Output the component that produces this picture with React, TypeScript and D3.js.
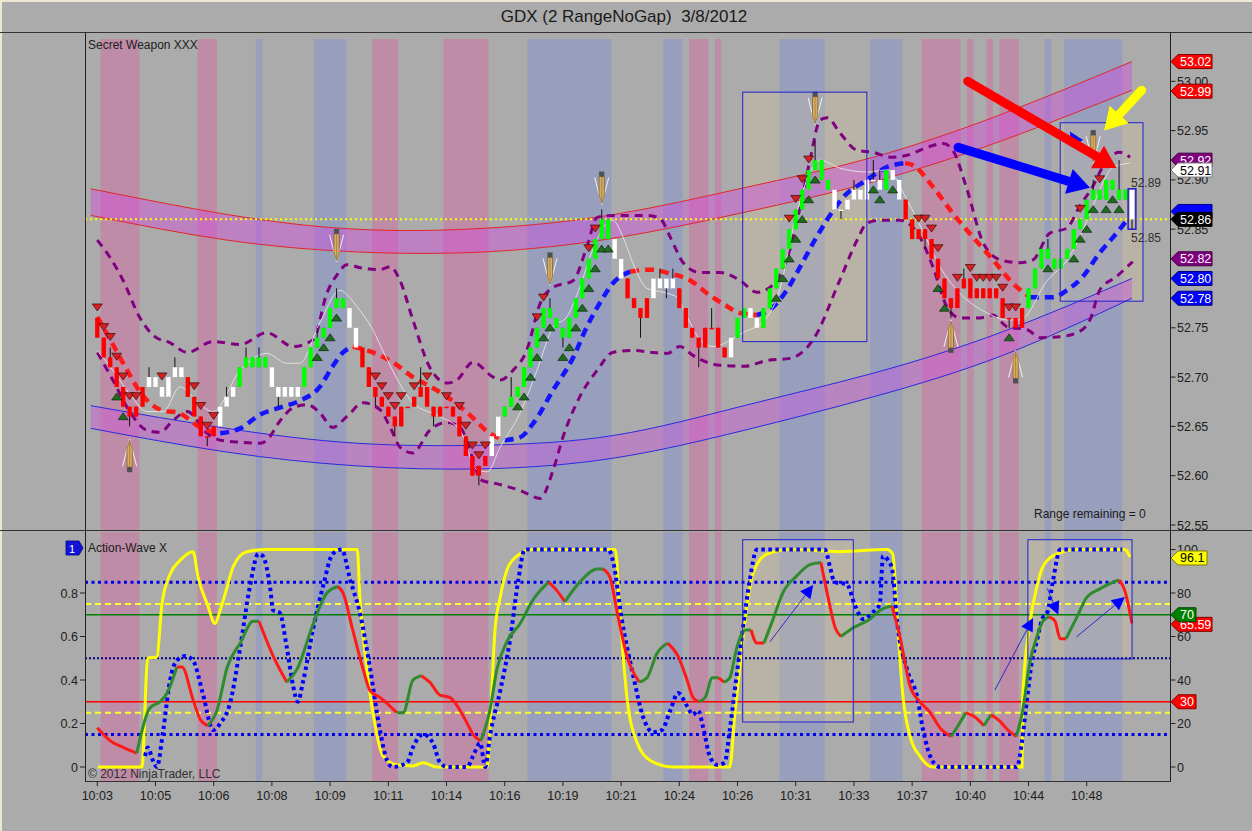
import React, { useEffect } from "react";
import * as d3 from "d3";

const W = 1252;
const H = 831;
const FONT = "'Liberation Sans', Arial, sans-serif";
const BG = "#ababab";
const PINK = "#bf8ca7";
const BLUEBAND = "#979fbc";

const TITLE = "GDX (2 RangeNoGap)\u00a0\u00a03/8/2012";
const timeLabels = ["10:03","10:05","10:06","10:08","10:09","10:11","10:14","10:16","10:19","10:21","10:24","10:26","10:31","10:33","10:37","10:40","10:44","10:48"];
const timeTickBars = [0,9,18,27,36,45,54,63,72,81,90,99,108,117,126,135,144,153];
const priceTicks = [52.55,52.6,52.65,52.7,52.75,52.8,52.85,52.9,52.95,53.0];
const hiddenPriceTicks = [52.8];
const oscTicks = [0,20,40,60,80,100];
const oscLeftTicks = [0,0.2,0.4,0.6,0.8];

// price bars (cents above 52.00), range bars with no gap
const PRICE_BASE = 52;
const firstOpenCents = 76;
const closeCents = [
74,72,71,69,67,66,67,69,70,69,
68,70,71,70,68,66,64,64,65,67,
68,69,71,72,71,72,71,69,68,69,
68,69,71,73,74,75,77,78,77,75,
73,71,69,68,67,66,65,67,67,68,
69,67,66,67,67,66,64,62,60,61,
62,64,66,67,68,69,71,73,75,77,
76,75,74,76,78,80,82,84,86,84,
82,80,78,77,76,78,80,79,80,79,
77,75,74,73,75,75,73,72,74,76,
77,76,75,77,79,81,83,85,87,89,
91,92,90,89,87,87,88,89,88,90,
90,89,91,90,88,86,84,85,84,82,
80,78,77,79,80,78,79,78,79,78,
76,76,75,77,79,81,83,82,81,82,
83,85,86,88,89,88,90,89,88,89,
86
];
const wickHighs = [[2,73],[8,71],[12,72],[20,69],[23,73],[25,73],[34,75],[37,79],[50,71],[64,70],[70,78],[78,87],[87,81],[89,81],[95,77],[111,94],[117,90],[120,92],[121,91],[134,81],[147,84],[154,90],[158,92],[160,89]];
const wickLows = [[5,65],[17,63],[28,67],[43,67],[46,64],[52,65],[59,59],[72,73],[84,74],[88,78],[93,71],[115,86],[128,83],[132,76],[141,75],[160,85]];
const colorRuns = [["r",8],["w",6],["r",5],["w",3],["g",5],["w",5],["g",7],["w",2],["r",20],["w",2],["g",17],["w",2],["r",4],["w",4],["r",8],["w",1],["g",2],["w",2],["g",11],["w",8],["g",1],["w",2],["r",19],["g",16],["w",1]];
const downTriangles = [0,1,2,3,4,5,6,10,15,16,17,18,43,44,45,46,47,49,51,54,56,57,58,59,60,68,69,76,77,107,108,109,110,127,128,129,130,133,135,136,137,138,139,140,141,142,152,155];
const upTriangles = [3,4,34,35,36,37,65,66,67,68,69,70,72,73,74,75,76,77,78,79,105,106,107,108,109,110,111,120,121,123,130,131,141,147,151,152,153,154,156,157,158];
const signalArrows = [
  { bar: 5, dir: "up", price: 52.637 },
  { bar: 37, dir: "down", price: 52.817 },
  { bar: 70, dir: "down", price: 52.793 },
  { bar: 78, dir: "down", price: 52.875 },
  { bar: 111, dir: "down", price: 52.956 },
  { bar: 132, dir: "up", price: 52.758 },
  { bar: 142, dir: "up", price: 52.727 },
  { bar: 154, dir: "down", price: 52.917 },
];

const pinkBands = [[1,6],[16,18],[43,46],[54,60],[92,94],[96,96],[128,133],[135,135],[138,138],[140,142]];
const blueBands = [[25,25],[34,38],[67,79],[88,90],[106,112],[120,124],[147,147],[150,158]];

const channelBars = [-1,20,40,60,80,100,120,140,160];
const upperChanTop = [52.891,52.865,52.850,52.851,52.865,52.892,52.923,52.967,53.020];
const upperChanBot = [52.864,52.839,52.827,52.827,52.841,52.867,52.898,52.940,52.991];
const lowerChanTop = [52.671,52.648,52.633,52.631,52.641,52.671,52.704,52.746,52.800];
const lowerChanBot = [52.648,52.624,52.610,52.607,52.618,52.646,52.680,52.722,52.780];

// trend moving average: [bar, price, segment colour]
const maLine = [
[0,52.761,"r"],[2,52.738,"r"],[4.6,52.707,"r"],[6.6,52.685,"r"],[9.7,52.667,"r"],[12.8,52.663,"r"],[15.9,52.649,"r"],
[19,52.643,"b"],[22.1,52.648,"b"],[25.2,52.662,"b"],[28.2,52.669,"b"],[31.3,52.676,"b"],[34.4,52.69,"b"],[36.4,52.711,"b"],[38,52.725,"b"],
[39.5,52.731,"r"],[42.6,52.725,"r"],[45.7,52.715,"r"],[48.8,52.7,"r"],[51.9,52.689,"r"],[54.1,52.68,"r"],[57.2,52.664,"r"],[60.7,52.643,"r"],
[63,52.636,"b"],[65.4,52.639,"b"],[67.4,52.653,"b"],[70.5,52.687,"b"],[73.6,52.72,"b"],[75.7,52.751,"b"],[77.7,52.775,"b"],[79.7,52.795,"b"],
[82.4,52.807,"r"],[85.5,52.809,"r"],[88.6,52.805,"r"],[91.7,52.798,"r"],[94.7,52.783,"r"],[97.1,52.773,"r"],[99.4,52.765,"r"],
[102,52.763,"b"],[104.5,52.771,"b"],[106.6,52.788,"b"],[108.7,52.812,"b"],[110.7,52.836,"b"],[112.8,52.859,"b"],[115.3,52.882,"b"],[119,52.9,"b"],[122.1,52.913,"b"],
[124.9,52.917,"r"],[126.1,52.915,"r"],[129.2,52.893,"r"],[132.3,52.866,"r"],[135.4,52.842,"r"],[138.5,52.819,"r"],[141.6,52.795,"r"],
[144.2,52.781,"b"],[147.8,52.781,"b"],[149.9,52.788,"b"],[152.4,52.802,"b"],[155,52.826,"b"],[157.1,52.842,"b"],[159.2,52.859,"b"]
];
const envUpper = [
[0,52.839],[2,52.821],[4,52.798],[6.6,52.760],[8.9,52.741],[11.2,52.735],[13.9,52.725],[17.9,52.736],[22.1,52.733],[26.2,52.745],[30.3,52.731],[33.4,52.738],[35.5,52.785],[37.1,52.804],[38.6,52.814],[40.6,52.811],[43.7,52.809],[45.3,52.812],[46.8,52.798],[48.8,52.758],[51.4,52.710],[54.1,52.694],[55.6,52.697],[58.1,52.715],[61.2,52.700],[62.3,52.697],[64.3,52.707],[66.4,52.727],[68.5,52.775],[70.5,52.791],[73.6,52.798],[75.7,52.832],[77.3,52.862],[79.7,52.864],[85,52.864],[87,52.861],[88.6,52.842],[90.6,52.816],[93.2,52.806],[96.3,52.806],[99.4,52.798],[102,52.786],[104,52.791],[106.6,52.819],[108.7,52.873],[110.2,52.920],[111.8,52.961],[112.9,52.963],[114.8,52.948],[117.5,52.930],[120,52.928],[122.6,52.923],[125.2,52.925],[128.3,52.933],[130.8,52.937],[132.3,52.930],[134.5,52.890],[137,52.836],[139.6,52.819],[142.7,52.816],[144.7,52.819],[147.3,52.846],[149.9,52.851],[151.9,52.873],[153.9,52.893],[156.1,52.920],[158.1,52.928],[159.7,52.923]
];
const envLower = [
[0,52.725],[2.4,52.697],[5.1,52.664],[7.7,52.646],[9.7,52.644],[11.7,52.656],[13.9,52.665],[17,52.643],[19,52.636],[22.1,52.634],[25.2,52.633],[26.2,52.636],[28.3,52.656],[30.3,52.669],[32.4,52.672],[34.4,52.664],[36.4,52.649],[38.6,52.660],[41.1,52.674],[43.7,52.667],[45.3,52.649],[46.8,52.629],[48.8,52.623],[51.4,52.646],[54.1,52.654],[56.1,52.649],[58.1,52.616],[59.2,52.596],[62.3,52.591],[65.4,52.585],[68.5,52.577],[70.5,52.606],[72,52.639],[74.6,52.680],[77.3,52.707],[79.7,52.725],[82.8,52.727],[85.9,52.725],[88.1,52.724],[90.1,52.731],[92.1,52.722],[94.3,52.715],[96.3,52.712],[100.1,52.711],[103.6,52.717],[107.1,52.719],[110.7,52.738],[114.8,52.798],[117.5,52.839],[119,52.856],[121,52.859],[124.1,52.859],[127.2,52.842],[129.2,52.812],[131.4,52.771],[133.4,52.760],[136.5,52.760],[138.5,52.763],[140.7,52.751],[143.8,52.748],[145.8,52.740],[148.9,52.741],[151.5,52.745],[153.5,52.758],[155,52.788],[157.6,52.802],[160.1,52.817]
];
const fastLine = [
[0,52.727],[2.4,52.707],[5.1,52.682],[7.7,52.665],[10.2,52.665],[12.8,52.690],[15.9,52.672],[17.9,52.665],[22.1,52.707],[26.2,52.724],[29.3,52.714],[31.3,52.714],[34.4,52.755],[37.5,52.788],[40.2,52.771],[42.6,52.748],[44.5,52.722],[48.8,52.674],[53,52.660],[56.1,52.646],[58.7,52.606],[60.3,52.604],[62.3,52.629],[65.4,52.664],[68,52.707],[70.5,52.751],[72.6,52.761],[74.6,52.791],[76.6,52.829],[78.8,52.856],[79.7,52.859],[81.3,52.842],[82.8,52.816],[85,52.790],[88.1,52.785],[89.6,52.781],[91.2,52.761],[93.2,52.738],[95.2,52.731],[99.8,52.745],[103.2,52.758],[105.6,52.790],[107.6,52.852],[110.2,52.907],[111.8,52.920],[114.8,52.912],[119,52.908],[122.1,52.910],[125.2,52.880],[128.3,52.839],[130.3,52.812],[133.4,52.785],[137.6,52.765],[140.7,52.758],[142.7,52.758],[146.9,52.798],[150,52.819],[153.1,52.859],[155,52.890],[157.1,52.913],[159.7,52.917]
];
const lastPrice = 52.86;
const lastHighLabel = "52.89";
const lastLowLabel = "52.85";
const priceFlags = [
  { v: 53.02, label: "53.02", fill: "#ff0000", text: "#ffffff", stroke: "#800000" },
  { v: 52.99, label: "52.99", fill: "#ff0000", text: "#ffffff", stroke: "#800000" },
  { v: 52.92, label: "52.92", fill: "#800080", text: "#ffffff", stroke: "#400040" },
  { v: 52.91, label: "52.91", fill: "#ffffff", text: "#000000", stroke: "#808080" },
  { v: 52.868, label: "", fill: "#0000ff", text: "#ffffff", stroke: "#000080" },
  { v: 52.86, label: "52.86", fill: "#000000", text: "#ffffff", stroke: "#000000" },
  { v: 52.82, label: "52.82", fill: "#800080", text: "#ffffff", stroke: "#400040" },
  { v: 52.80, label: "52.80", fill: "#0000ff", text: "#ffffff", stroke: "#000080" },
  { v: 52.78, label: "52.78", fill: "#0000ff", text: "#ffffff", stroke: "#000080" },
];

// oscillator panel
const yellowLine = [
[0.1,0],[6.9,0],[7.8,50],[9.2,50.6],[10,75],[11.3,89],[12.8,95],[14.8,99],[15.6,87],[17,75],[18.2,66],[19,72],[20.1,83],[21,92],[23.1,99],[26.2,100],[40.2,100],[40.6,78],[41.7,45],[42.9,20],[44.2,5],[46.3,1],[48.8,0.5],[50.4,2],[52.5,0],[60.3,0],[60.7,17],[61.5,63],[62.3,78],[63.4,91],[64.9,97],[67.4,100],[80.1,100],[80.8,71],[81.9,32],[83.5,11],[85.5,3],[89,0],[97.8,0],[98.6,25],[99.7,55],[100.5,75],[101.4,89],[103.6,98],[107.1,100],[114.8,99],[122.1,100],[123,98],[123.8,63],[124.6,32],[125.7,14],[127.2,5],[129.2,0],[143,0],[143.1,32],[144.2,66],[145.3,83],[146.2,92],[148.4,98],[151.5,100],[158.9,100],[159.7,96.5]
];
const blueDotLine = [
[7.4,5],[7.8,9],[8.6,3],[9.2,0],[10.2,17],[11.2,39],[12.3,49],[13.6,51],[14.8,49],[16.3,34],[17.9,17],[19,20],[20.5,29],[22.1,55],[23.6,83],[24.9,98],[25.6,97],[26.7,83],[27.2,72],[28.2,71],[29.3,55],[30.3,37],[31,30],[31.8,39],[33.4,64],[34.9,83],[36.4,98],[37.8,100],[39.1,86],[40.6,71],[42.2,45],[43.7,17],[44.8,3],[45.7,0],[47.9,2],[48.8,9],[50.4,15],[51.9,11],[53,2],[54.1,0],[57.2,0],[58.1,5],[59.2,11],[60,0],[60.7,14],[62.3,35],[63.8,58],[65.1,86],[66.1,100],[79,100],[79.8,94],[81.1,68],[82.8,43],[84.4,23],[85.9,16],[87.3,17],[88.6,26],[89.8,34],[91.2,28],[92.1,24],[92.9,26],[93.7,18],[94.7,5],[95.8,1],[97,2],[97.8,17],[98.9,43],[99.8,63],[100.9,86],[102,100],[112.5,100],[113.3,92],[114,85],[115.9,84],[117.2,74],[118.4,68],[119.9,71],[121,75],[121.5,97],[122.3,95],[122.9,91],[123.7,66],[125.2,45],[126.8,32],[127.7,17],[129.1,3],[130.3,0],[142.2,0],[143,12],[143.8,32],[144.5,48],[145.3,58],[146.1,68],[146.9,71],[147.8,86],[148.9,100],[158.5,100]
];
const signalLine = [
[0,18,"r"],[2,12,"r"],[4,9,"r"],[6.1,6.4,"g"],[8.1,27,"g"],[9.7,30,"g"],[10.8,34,"g"],[12.3,46,"r"],[13.1,46,"r"],[14.8,31,"r"],[15.9,22,"r"],[17.1,19,"g"],[18.5,26,"g"],[20.1,46,"g"],[22.1,57,"g"],[24.1,67,"g"],[25,67,"r"],[27.2,51,"r"],[29.3,39,"g"],[30.9,45,"g"],[33.4,66,"g"],[35.5,80,"g"],[37.2,83,"r"],[38,80,"r"],[39.5,63,"r"],[41.1,45,"r"],[42.2,35,"r"],[43.7,32,"r"],[46.3,25,"g"],[47.3,25,"g"],[48.8,40,"g"],[50.1,42,"r"],[51.4,39,"r"],[53,33,"r"],[54.5,32,"r"],[56.1,26,"r"],[57.2,20,"r"],[58.1,15,"r"],[59.3,12,"g"],[60.7,26,"g"],[61.8,45,"g"],[63.4,58,"g"],[65.4,66,"g"],[67.4,77,"g"],[69.8,85,"r"],[71.1,81,"r"],[72.3,76,"g"],[74.6,85,"g"],[77.3,91,"g"],[78.2,91,"r"],[79.3,87,"r"],[80.4,71,"r"],[81.9,51,"r"],[83.8,39,"g"],[85,41,"g"],[86.5,52,"g"],[88.2,57,"r"],[89.8,51,"r"],[91.2,40,"r"],[92.1,32,"r"],[93,30,"g"],[94,32,"g"],[95.1,41,"g"],[96.1,41,"r"],[96.9,39,"g"],[97.8,41,"g"],[98.9,55,"g"],[100.2,63,"g"],[101.1,63,"r"],[102,57,"r"],[103.1,57,"g"],[104.5,68,"g"],[106,80,"g"],[108.2,88,"g"],[110.2,93,"g"],[111.9,94,"r"],[113,78,"r"],[114.1,64,"r"],[115,60,"g"],[116.9,64,"g"],[119.5,68,"g"],[121,72,"g"],[122.9,74,"r"],[124.1,60,"r"],[125.7,37,"r"],[127.2,30,"r"],[128.8,25,"r"],[130.3,18,"r"],[132,14,"g"],[133.1,19,"g"],[134.3,25,"r"],[135.7,23,"r"],[137.1,19,"g"],[138.2,24,"r"],[139.6,21,"r"],[140.8,17,"r"],[142.1,14,"g"],[143.1,26,"g"],[144.2,48,"g"],[145.3,60,"g"],[146.2,67,"g"],[147.2,69,"r"],[148.1,67,"r"],[148.9,59,"r"],[149.8,59,"g"],[151.5,69,"g"],[153,78,"g"],[155.1,82,"g"],[157.1,85,"g"],[158,86,"r"],[158.9,81,"r"],[159.4,75,"r"],[160,66,"r"]
];
const oscDottedLevels = [85, 15];
const oscMidLevel = 50;
const oscDashedLevels = [75, 25];
const oscUpperLevel = 70;
const oscLowerLevel = 30;
const oscFlags = [
  { v: 96.1, label: "96.1", fill: "#ffff00", text: "#000000", stroke: "#808000", w: 36 },
  { v: 65.59, label: "65.59", fill: "#ff0000", text: "#ffffff", stroke: "#800000", w: 41 },
  { v: 70, label: "70", fill: "#008000", text: "#ffffff", stroke: "#004000", w: 25 },
  { v: 30, label: "30", fill: "#ff0000", text: "#ffffff", stroke: "#800000", w: 25 },
];

// annotations (bar, price) / (bar, osc value)
const priceBoxes = [[99.8,119.0,52.989,52.736],[148.9,161.7,52.958,52.777]];
const lastBarBox = [159.4,160.6,52.891,52.85];
const oscBoxes = [[99.8,116.9,104.5,20.7],[143.9,160,104.5,49.7]];
const bigArrows = [
  { from: [134.6,53.0], to: [157.6,52.912], color: "#ff0000" },
  { from: [133.1,52.933], to: [153.5,52.892], color: "#0000ff" },
  { from: [161.5,52.991], to: [155.7,52.950], color: "#ffff00" },
];
const oscArrows = [
  { from: [104.0,57.5], to: [110.7,83.7] },
  { from: [138.8,35.4], to: [144.7,68.5] },
  { from: [146.9,82.1], to: [148.6,70] },
  { from: [151.4,59.8], to: [158.9,78.2] },
];

function colorSegments(pts: any[]) {
  const segs: any[] = [];
  let start = 0;
  for (let k = 1; k < pts.length; k++) {
    if (pts[k][2] !== pts[start][2] || k === pts.length - 1) {
      segs.push({ color: pts[start][2], pts: pts.slice(start, k + 1) });
      start = k;
    }
  }
  return segs;
}

function arrowGeom(x1: number, y1: number, x2: number, y2: number, len: number, half: number) {
  const dx = x2 - x1, dy = y2 - y1;
  const L = Math.sqrt(dx * dx + dy * dy);
  const ux = dx / L, uy = dy / L;
  const bx = x2 - ux * len, by = y2 - uy * len;
  const px = -uy, py = ux;
  return {
    bx, by,
    head: `${x2},${y2} ${bx + px * half},${by + py * half} ${bx - px * half},${by - py * half}`,
  };
}

export default function App() {
  useEffect(() => {
    document.body.style.margin = "0";
    document.body.style.background = BG;
  }, []);

  const x = d3.scaleLinear().domain([0, 160]).range([97.3, 1132]);
  const y = d3.scaleLinear().domain([52.55, 53.0]).range([525, 81.3]);
  const yo = d3.scaleLinear().domain([0, 100]).range([767, 549.5]);
  const yoL = d3.scaleLinear().domain([0, 1]).range([767, 549.5]);

  const PL = 85, PR = 1170.5;
  const TOP_T = 39, TOP_B = 530, LOW_T = 532, LOW_B = 781;

  const colors: string[] = [];
  colorRuns.forEach(([c, n]: any) => { for (let k = 0; k < n; k++) colors.push(c); });
  const hiMap = new Map(wickHighs.map((d) => [d[0], d[1]]));
  const loMap = new Map(wickLows.map((d) => [d[0], d[1]]));
  const bars = closeCents.map((c, i) => {
    const o = i === 0 ? firstOpenCents : closeCents[i - 1];
    const hi = Math.max(o, c, (hiMap.get(i) as number) ?? -1);
    const lo = Math.min(o, c, (loMap.get(i) as number) ?? 999);
    return { i, o: PRICE_BASE + o / 100, c: PRICE_BASE + c / 100, h: PRICE_BASE + hi / 100, l: PRICE_BASE + lo / 100, col: colors[i] || "w" };
  });
  const candleFill: any = { r: "#ff0000", g: "#00ff00", w: "#ffffff" };

  const linePrice = d3.line<any>().x((d) => x(d[0])).y((d) => y(d[1])).curve(d3.curveMonotoneX);
  const lineOsc = d3.line<any>().x((d) => x(d[0])).y((d) => yo(d[1])).curve(d3.curveMonotoneX);
  const chanData = (top: number[], bot: number[]) => channelBars.map((b, k) => [b, top[k], bot[k]]);
  const chanArea = d3.area<any>().x((d) => x(d[0])).y0((d) => y(d[2])).y1((d) => y(d[1])).curve(d3.curveNatural);
  const chanTopLine = d3.line<any>().x((d) => x(d[0])).y((d) => y(d[1])).curve(d3.curveNatural);
  const chanBotLine = d3.line<any>().x((d) => x(d[0])).y((d) => y(d[2])).curve(d3.curveNatural);
  const upperChan = chanData(upperChanTop, upperChanBot);
  const lowerChan = chanData(lowerChanTop, lowerChanBot);

  const bandRects = (top: number, bot: number) => (
    <g>
      {pinkBands.map(([s, e], k) => (
        <rect key={"p" + k} x={x(s - 0.5)} y={top} width={x(e + 0.5) - x(s - 0.5)} height={bot - top} fill={PINK} />
      ))}
      {blueBands.map(([s, e], k) => (
        <rect key={"b" + k} x={x(s - 0.5)} y={top} width={x(e + 0.5) - x(s - 0.5)} height={bot - top} fill={BLUEBAND} />
      ))}
    </g>
  );

  const flagShape = (yy: number, w: number) => {
    const x0 = 1171;
    return `${x0},${yy} ${x0 + 7},${yy - 7} ${x0 + w},${yy - 7} ${x0 + w},${yy + 7} ${x0 + 7},${yy + 7}`;
  };

  const pencil = (a: any, k: number) => {
    const cx = x(a.bar);
    const tip = y(a.price);
    const s = a.dir === "down" ? -1 : 1;
    const yy = (d: number) => tip + s * d;
    return (
      <g key={"pen" + k}>
        <line x1={cx} y1={tip} x2={cx - 7} y2={yy(27)} stroke="#f2f2f2" strokeWidth={1} />
        <line x1={cx} y1={tip} x2={cx + 7} y2={yy(27)} stroke="#f2f2f2" strokeWidth={1} />
        <polygon points={`${cx},${yy(1)} ${cx - 2.6},${yy(9)} ${cx - 2.6},${yy(28)} ${cx + 2.6},${yy(28)} ${cx + 2.6},${yy(9)}`} fill="#d9ad62" stroke="#7a5a22" strokeWidth={0.7} />
        <line x1={cx} y1={yy(3)} x2={cx} y2={yy(28)} stroke="#a07a38" strokeWidth={0.8} />
        <rect x={cx - 2.6} y={Math.min(yy(28), yy(33))} width={5.2} height={5} fill="#505050" />
      </g>
    );
  };

  const maSegs = colorSegments(maLine);
  const sigSegs = colorSegments(signalLine);

  return (
    <svg width={W} height={H} style={{ position: "absolute", left: 0, top: 0, display: "block" }} fontFamily={FONT}>
      <rect x={0} y={0} width={W} height={H} fill={BG} />
      <rect x={0} y={0} width={W} height={2} fill="#ede7d3" />
      <rect x={0} y={0} width={2} height={H} fill="#ede7d3" />
      <text x={624} y={22} textAnchor="middle" fontSize={17} fill="#1a1a1a">{TITLE}</text>

      {/* ===== price panel ===== */}
      {bandRects(TOP_T, TOP_B)}
      {priceBoxes.map((b, k) => (
        <rect key={"pbf" + k} x={x(b[0])} y={y(b[2])} width={x(b[1]) - x(b[0])} height={y(b[3]) - y(b[2])} fill="rgba(235,205,150,0.22)" />
      ))}
      <path d={chanArea(upperChan) || ""} fill="rgba(215,70,225,0.42)" />
      <path d={chanTopLine(upperChan) || ""} fill="none" stroke="#e02828" strokeWidth={1} />
      <path d={chanBotLine(upperChan) || ""} fill="none" stroke="#e02828" strokeWidth={1} />
      <path d={chanArea(lowerChan) || ""} fill="rgba(205,80,225,0.42)" />
      <path d={chanTopLine(lowerChan) || ""} fill="none" stroke="#2a2ae0" strokeWidth={1} />
      <path d={chanBotLine(lowerChan) || ""} fill="none" stroke="#2a2ae0" strokeWidth={1} />

      <line x1={PL} x2={PR} y1={y(lastPrice)} y2={y(lastPrice)} stroke="#ffff00" strokeWidth={2} strokeDasharray="2,3" />

      <path d={linePrice(envUpper) || ""} fill="none" stroke="#800080" strokeWidth={3} strokeDasharray="8,6" />
      <path d={linePrice(envLower) || ""} fill="none" stroke="#800080" strokeWidth={3} strokeDasharray="8,6" />
      {maSegs.map((s: any, k: number) => (
        <path key={"ma" + k} d={linePrice(s.pts) || ""} fill="none" stroke={s.color === "r" ? "#ff1a1a" : "#1414ff"} strokeWidth={4.5} strokeDasharray="9,6" />
      ))}
      <path d={linePrice(fastLine) || ""} fill="none" stroke="#e6e6e6" strokeWidth={1} opacity={0.9} />

      {bars.map((b) => (
        <line key={"w" + b.i} x1={x(b.i)} x2={x(b.i)} y1={y(b.h)} y2={y(b.l)} stroke="#111" strokeWidth={1} />
      ))}
      {bars.map((b) => {
        const top = y(Math.max(b.o, b.c));
        const bot = y(Math.min(b.o, b.c));
        return <rect key={"c" + b.i} x={x(b.i) - 2.2} y={top} width={4.4} height={Math.max(1.5, bot - top)} fill={candleFill[b.col]} />;
      })}
      {upTriangles.map((i) => {
        const cx = x(i), cy = y(bars[i].l) + 10;
        return <polygon key={"ut" + i} points={`${cx},${cy - 4} ${cx - 5},${cy + 3} ${cx + 5},${cy + 3}`} fill="#1f6b1f" stroke="#0b2b0b" strokeWidth={0.7} />;
      })}
      {downTriangles.map((i) => {
        const cx = x(i), cy = y(bars[i].h) - 11;
        return <polygon key={"dt" + i} points={`${cx},${cy + 4} ${cx - 5},${cy - 3} ${cx + 5},${cy - 3}`} fill="#d42020" stroke="#3a0808" strokeWidth={0.7} />;
      })}
      {signalArrows.map((a, k) => pencil(a, k))}

      {priceBoxes.map((b, k) => (
        <rect key={"pb" + k} x={x(b[0])} y={y(b[2])} width={x(b[1]) - x(b[0])} height={y(b[3]) - y(b[2])} fill="none" stroke="#2020d0" strokeWidth={1} />
      ))}
      <rect x={x(lastBarBox[0])} y={y(lastBarBox[2])} width={x(lastBarBox[1]) - x(lastBarBox[0])} height={y(lastBarBox[3]) - y(lastBarBox[2])} fill="none" stroke="#2020d0" strokeWidth={1.5} />
      {(() => {
        const g = arrowGeom(x(152.6), y(52.925), x(150.4), y(52.949), 14, 7);
        return <polygon points={g.head} fill="#1010ee" />;
      })()}
      {bigArrows.map((a, k) => {
        const x1 = x(a.from[0]), y1 = y(a.from[1]), x2 = x(a.to[0]), y2 = y(a.to[1]);
        const g = arrowGeom(x1, y1, x2, y2, 22, 13);
        return (
          <g key={"ba" + k}>
            <line x1={x1} y1={y1} x2={g.bx} y2={g.by} stroke={a.color} strokeWidth={9} strokeLinecap="round" />
            <polygon points={g.head} fill={a.color} />
          </g>
        );
      })}
      <text x={1131} y={187} fontSize={12} fill="#303030">{lastHighLabel}</text>
      <text x={1131} y={242} fontSize={12} fill="#303030">{lastLowLabel}</text>
      <text x={1034} y={518} fontSize={12} fill="#1a1a1a">Range remaining = 0</text>
      <text x={88} y={49} fontSize={12} fill="#202020">Secret Weapon XXX</text>

      {/* ===== oscillator panel ===== */}
      {bandRects(LOW_T, LOW_B)}
      {oscBoxes.map((b, k) => (
        <rect key={"obf" + k} x={x(b[0])} y={yo(b[2])} width={x(b[1]) - x(b[0])} height={yo(b[3]) - yo(b[2])} fill="rgba(235,205,150,0.22)" />
      ))}
      {oscDottedLevels.map((v) => (
        <line key={"od" + v} x1={PL} x2={PR} y1={yo(v)} y2={yo(v)} stroke="#0000ee" strokeWidth={3} strokeDasharray="3,3.5" />
      ))}
      <line x1={PL} x2={PR} y1={yo(oscMidLevel)} y2={yo(oscMidLevel)} stroke="#000080" strokeWidth={2} strokeDasharray="2,2" />
      {oscDashedLevels.map((v) => (
        <line key={"oy" + v} x1={PL} x2={PR} y1={yo(v)} y2={yo(v)} stroke="#ffff30" strokeWidth={2} strokeDasharray="6,4" />
      ))}
      <line x1={PL} x2={PR} y1={yo(oscUpperLevel)} y2={yo(oscUpperLevel)} stroke="#008000" strokeWidth={1.5} />
      <line x1={PL} x2={PR} y1={yo(oscLowerLevel)} y2={yo(oscLowerLevel)} stroke="#ff0000" strokeWidth={1.5} />

      <path d={lineOsc(yellowLine) || ""} fill="none" stroke="#ffff00" strokeWidth={3} />
      <path d={lineOsc(blueDotLine) || ""} fill="none" stroke="#0000ff" strokeWidth={4} strokeDasharray="3.5,3.5" />
      {sigSegs.map((s: any, k: number) => (
        <path key={"sg" + k} d={lineOsc(s.pts) || ""} fill="none" stroke={s.color === "r" ? "#ff1a1a" : "#2e8b2e"} strokeWidth={3} strokeLinejoin="round" />
      ))}
      {oscBoxes.map((b, k) => (
        <rect key={"ob" + k} x={x(b[0])} y={yo(b[2])} width={x(b[1]) - x(b[0])} height={yo(b[3]) - yo(b[2])} fill="none" stroke="#2020d0" strokeWidth={1} />
      ))}
      {oscArrows.map((a, k) => {
        const x1 = x(a.from[0]), y1 = yo(a.from[1]), x2 = x(a.to[0]), y2 = yo(a.to[1]);
        const g = arrowGeom(x1, y1, x2, y2, 13, 6.5);
        return (
          <g key={"oa" + k}>
            <line x1={x1} y1={y1} x2={g.bx} y2={g.by} stroke="#2a2ad0" strokeWidth={1} />
            <polygon points={g.head} fill="#0000ff" />
          </g>
        );
      })}
      <polygon points="66,541 79,541 83,548 79,555 66,555" fill="#1414d8" stroke="#00008a" strokeWidth={0.8} />
      <text x={72} y={552.5} fontSize={11} fill="#ffffff" textAnchor="middle">1</text>
      <text x={88} y={552} fontSize={12} fill="#202020">Action-Wave X</text>
      <text x={88} y={778} fontSize={12} fill="#303030">© 2012 NinjaTrader, LLC</text>

      {/* ===== frame and axes ===== */}
      <line x1={0} x2={W} y1={32.5} y2={32.5} stroke="#333" strokeWidth={1} />
      <line x1={0} x2={W} y1={530.5} y2={530.5} stroke="#333" strokeWidth={1} />
      <line x1={PL} x2={PR} y1={781.5} y2={781.5} stroke="#333" strokeWidth={1} />
      <line x1={85.5} x2={85.5} y1={32.5} y2={781.5} stroke="#222" strokeWidth={1} />
      <line x1={PR} x2={PR} y1={32.5} y2={781.5} stroke="#222" strokeWidth={1} />

      {priceTicks.map((v) => (
        <g key={"pt" + v}>
          <line x1={PR} x2={PR + 5} y1={y(v)} y2={y(v)} stroke="#222" />
          {hiddenPriceTicks.indexOf(v) < 0 && (
            <text x={1177} y={y(v) + 4.5} fontSize={12.5} fill="#202020">{v.toFixed(2)}</text>
          )}
        </g>
      ))}
      {oscTicks.map((v) => (
        <g key={"ot" + v}>
          <line x1={PR} x2={PR + 5} y1={yo(v)} y2={yo(v)} stroke="#222" />
          <text x={1177} y={yo(v) + 4.5} fontSize={12.5} fill="#202020">{v}</text>
        </g>
      ))}
      {oscLeftTicks.map((v) => (
        <g key={"ol" + v}>
          <line x1={80} x2={85.5} y1={yoL(v)} y2={yoL(v)} stroke="#222" />
          <text x={78} y={yoL(v) + 4.5} fontSize={12.5} fill="#202020" textAnchor="end">{v === 0 ? "0" : v.toFixed(1)}</text>
        </g>
      ))}
      {timeTickBars.map((b, k) => (
        <g key={"tt" + k}>
          <line x1={x(b)} x2={x(b)} y1={781.5} y2={786} stroke="#222" />
          <text x={x(b)} y={800} fontSize={12.5} fill="#202020" textAnchor="middle">{timeLabels[k]}</text>
        </g>
      ))}

      {priceFlags.map((f, k) => (
        <g key={"pf" + k}>
          <polygon points={flagShape(y(f.v), 41)} fill={f.fill} stroke={f.stroke} strokeWidth={1} />
          {f.label && <text x={1180} y={y(f.v) + 4.5} fontSize={12.5} fill={f.text}>{f.label}</text>}
        </g>
      ))}
      {oscFlags.map((f, k) => (
        <g key={"of" + k}>
          <polygon points={flagShape(yo(f.v), f.w)} fill={f.fill} stroke={f.stroke} strokeWidth={1} />
          <text x={1180} y={yo(f.v) + 4.5} fontSize={12.5} fill={f.text}>{f.label}</text>
        </g>
      ))}
    </svg>
  );
}
